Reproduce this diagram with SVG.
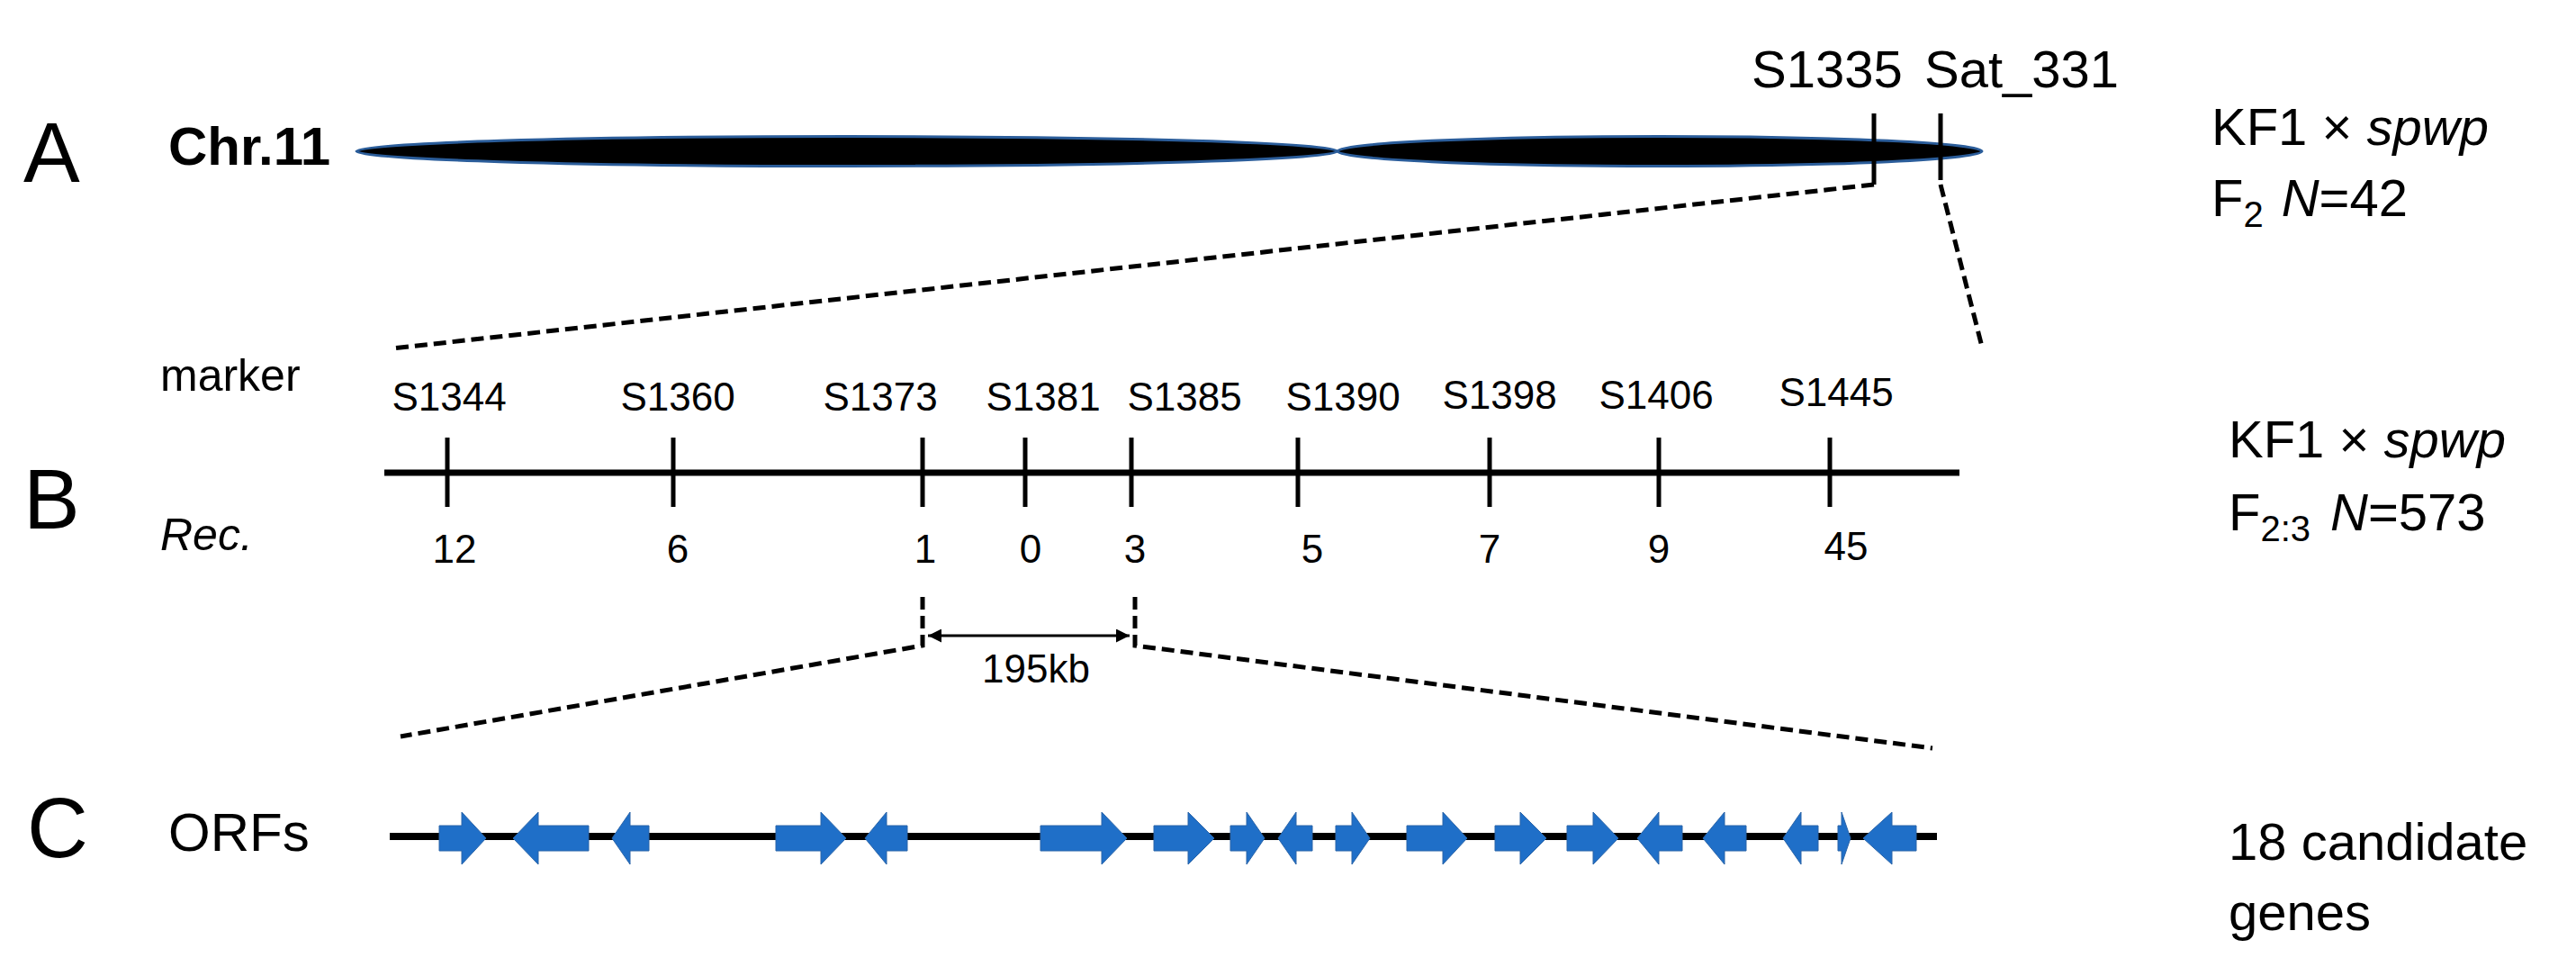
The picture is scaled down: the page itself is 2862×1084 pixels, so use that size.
<svg xmlns="http://www.w3.org/2000/svg" width="2862" height="1084" viewBox="0 0 2862 1084">
<style>
text{font-family:"Liberation Sans",Arial,sans-serif;fill:#000}
.big{font-size:94px}
.lab{font-size:58px}
.mk{font-size:44px}
.tick{stroke:#000;stroke-width:5}
.dash{stroke:#000;stroke-width:5;stroke-dasharray:14 7;fill:none}
.orf{fill:#1f6fc8;stroke:#2a64a8;stroke-width:1}
</style>
<defs>
<marker id="ah" viewBox="0 0 10 10" refX="10" refY="5" markerWidth="5" markerHeight="5" orient="auto-start-reverse"><path d="M0,0L10,5L0,10z" fill="#000"/></marker>
</defs>
<g id="panelA">
<text class="big" x="26" y="202">A</text>
<text x="187" y="183" font-size="60" font-weight="bold">Chr.11</text>
<ellipse cx="941" cy="168" rx="545" ry="16.5" fill="#000" stroke="#2b5d9a" stroke-width="3"/>
<ellipse cx="1844" cy="168" rx="358" ry="16.5" fill="#000" stroke="#2b5d9a" stroke-width="3"/>
<line class="tick" x1="2082" y1="126" x2="2082" y2="205"/>
<line class="tick" x1="2156" y1="126" x2="2156" y2="200"/>
<text class="lab" x="1946" y="97">S1335</text>
<text class="lab" x="2138" y="97">Sat_331</text>
<text class="lab" x="2457" y="161">KF1 × <tspan font-style="italic">spwp</tspan></text>
<text class="lab" x="2457" y="240">F<tspan font-size="40" dy="12">2</tspan><tspan dy="-12" dx="20" font-style="italic">N</tspan>=42</text>
</g>
<g id="panelB">
<text class="big" x="26" y="587">B</text>
<text x="178" y="434" font-size="50">marker</text>
<text x="178" y="611" font-size="50" font-style="italic">Rec.</text>
<line x1="427" y1="525" x2="2177" y2="525" stroke="#000" stroke-width="7"/>
<g class="tick">
<line x1="497" y1="486" x2="497" y2="563"/><line x1="748" y1="486" x2="748" y2="563"/>
<line x1="1025" y1="486" x2="1025" y2="563"/><line x1="1139" y1="486" x2="1139" y2="563"/>
<line x1="1257" y1="486" x2="1257" y2="563"/><line x1="1442" y1="486" x2="1442" y2="563"/>
<line x1="1655" y1="486" x2="1655" y2="563"/><line x1="1843" y1="486" x2="1843" y2="563"/>
<line x1="2033" y1="486" x2="2033" y2="563"/>
</g>
<g class="mk" text-anchor="middle">
<text x="499" y="456">S1344</text><text x="753" y="456">S1360</text>
<text x="978" y="456">S1373</text><text x="1159" y="456">S1381</text>
<text x="1316" y="456">S1385</text><text x="1492" y="456">S1390</text>
<text x="1666" y="454">S1398</text><text x="1840" y="454">S1406</text>
<text x="2040" y="451">S1445</text>
</g>
<g class="mk" text-anchor="middle" font-size="46">
<text x="505" y="625">12</text><text x="753" y="625">6</text>
<text x="1028" y="625">1</text><text x="1145" y="625">0</text>
<text x="1261" y="625">3</text><text x="1458" y="625">5</text>
<text x="1655" y="625">7</text><text x="1843" y="625">9</text>
<text x="2051" y="622">45</text>
</g>
<text class="lab" x="2476" y="508">KF1 × <tspan font-style="italic">spwp</tspan></text>
<text class="lab" x="2476" y="589">F<tspan font-size="40" dy="12">2:3</tspan><tspan dy="-12" dx="22" font-style="italic">N</tspan>=573</text>
<text class="mk" x="1151" y="758" text-anchor="middle" font-size="42">195kb</text>
</g>
<g id="panelC">
<text class="big" x="30" y="952">C</text>
<text x="187" y="945" font-size="60">ORFs</text>
<line x1="433" y1="929" x2="2152" y2="929" stroke="#000" stroke-width="8"/>
<g class="orf">
<path d="M488,917H513V902L540,931L513,960V945H488Z"/>
<path d="M654,917H598V902L570,931L598,960V945H654Z"/>
<path d="M721,917H700V902L680,931L700,960V945H721Z"/>
<path d="M862,917H912V902L940,931L912,960V945H862Z"/>
<path d="M1008,917H985V902L961,931L985,960V945H1008Z"/>
<path d="M1156,917H1224V902L1252,931L1224,960V945H1156Z"/>
<path d="M1282,917H1320V902L1349,931L1320,960V945H1282Z"/>
<path d="M1367,917H1385V902L1405,931L1385,960V945H1367Z"/>
<path d="M1458,917H1440V902L1420,931L1440,960V945H1458Z"/>
<path d="M1484,917H1502V902L1522,931L1502,960V945H1484Z"/>
<path d="M1563,917H1603V902L1630,931L1603,960V945H1563Z"/>
<path d="M1661,917H1689V902L1718,931L1689,960V945H1661Z"/>
<path d="M1741,917H1770V902L1798,931L1770,960V945H1741Z"/>
<path d="M1869,917H1843V902L1819,931L1843,960V945H1869Z"/>
<path d="M1940,917H1916V902L1892,931L1916,960V945H1940Z"/>
<path d="M2020,917H2001V902L1981,931L2001,960V945H2020Z"/>
<path d="M2042,917H2046V902L2056,931L2046,960V945H2042Z"/>
<path d="M2129,917H2102V902L2070,931L2102,960V945H2129Z"/>
</g>
<text class="lab" x="2476" y="955">18 candidate</text>
<text class="lab" x="2476" y="1033">genes</text>
</g>
<g id="connectors">
<path class="dash" d="M2082,205L436,387"/>
<path class="dash" d="M2156,205L2202,385"/>
<path class="dash" d="M1025,663V717L445,818"/>
<path class="dash" d="M1261,663V717L2147,831"/>
<line x1="1031" y1="706" x2="1255" y2="706" stroke="#000" stroke-width="3" marker-start="url(#ah)" marker-end="url(#ah)"/>
</g>
</svg>
